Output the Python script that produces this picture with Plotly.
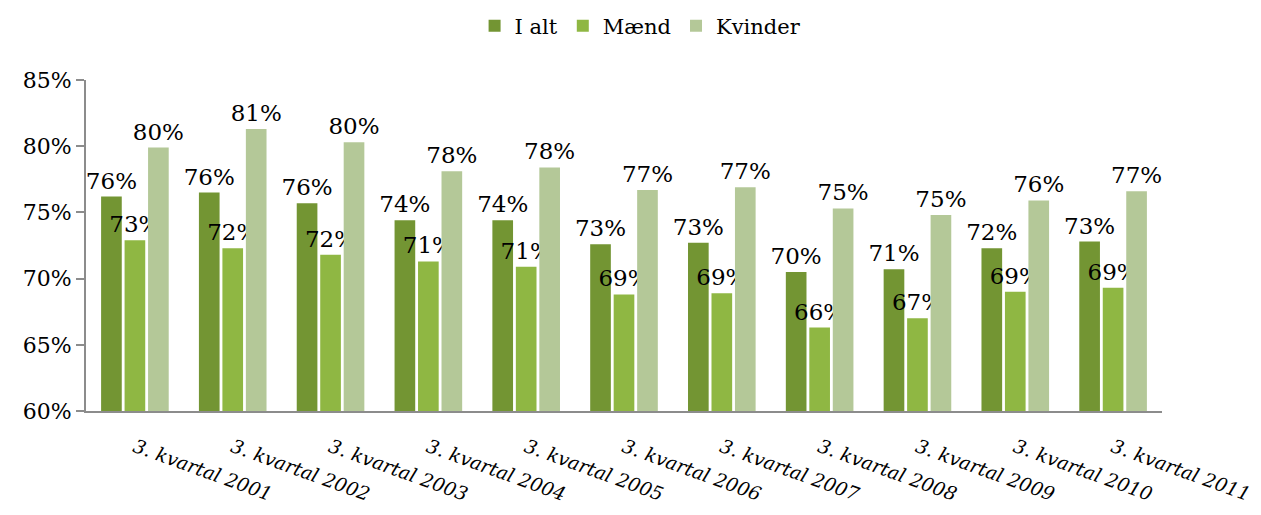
import plotly.graph_objects as go

categories = ["3. kvartal 2001", "3. kvartal 2002", "3. kvartal 2003", "3. kvartal 2004",
              "3. kvartal 2005", "3. kvartal 2006", "3. kvartal 2007", "3. kvartal 2008",
              "3. kvartal 2009", "3. kvartal 2010", "3. kvartal 2011"]
i_alt = [76.2, 76.5, 75.7, 74.4, 74.4, 72.6, 72.7, 70.5, 70.7, 72.3, 72.8]
maend = [72.9, 72.3, 71.8, 71.3, 70.9, 68.8, 68.9, 66.3, 67.0, 69.0, 69.3]
kvinder = [79.9, 81.3, 80.3, 78.1, 78.4, 76.7, 76.9, 75.3, 74.8, 75.9, 76.6]

series = [("I alt", i_alt, "#739533"), ("Mænd", maend, "#8fb743"), ("Kvinder", kvinder, "#b4c898")]

FONT = "DejaVu Serif, Liberation Serif, serif"

fig = go.Figure()
for name, vals, color in series:
    fig.add_trace(go.Bar(
        x=categories, y=vals, name=name,
        marker=dict(color=color, line=dict(width=0)),
        text=[f"{round(v)}%" for v in vals],
        textposition="outside",
        constraintext="none",
        cliponaxis=False,
        textfont=dict(family=FONT, size=23, color="black"),
    ))

fig.update_layout(
    width=1261, height=515,
    margin=dict(l=86, r=99, t=80, b=104, autoexpand=False),
    paper_bgcolor="white", plot_bgcolor="white",
    barmode="group", bargap=0.28, bargroupgap=0.12,
    font=dict(family=FONT, color="black"),
    showlegend=True,
    legend=dict(orientation="h", x=0.508, xanchor="center", xref="container",
                y=(411 - 26) / 331, yanchor="middle", yref="paper",
                font=dict(family=FONT, size=21), itemwidth=30,
                traceorder="normal"),
    xaxis=dict(showline=True, linecolor="#8c8c8c", linewidth=2, ticks="",
               tickangle=20, tickfont=dict(family=FONT, size=19, style="italic"),
               ticklabelstandoff=16, showgrid=False, automargin=False),
    yaxis=dict(range=[60, 85], dtick=5, showline=True, linecolor="#8c8c8c", linewidth=2,
               ticks="outside", ticklen=8, tickcolor="#8c8c8c", tickwidth=2,
               ticksuffix="%", tickfont=dict(family=FONT, size=22),
               showgrid=False, zeroline=False, automargin=False),
)

fig.write_html("out.html", config={"displayModeBar": False},
               post_script="document.body.style.margin='0';")
